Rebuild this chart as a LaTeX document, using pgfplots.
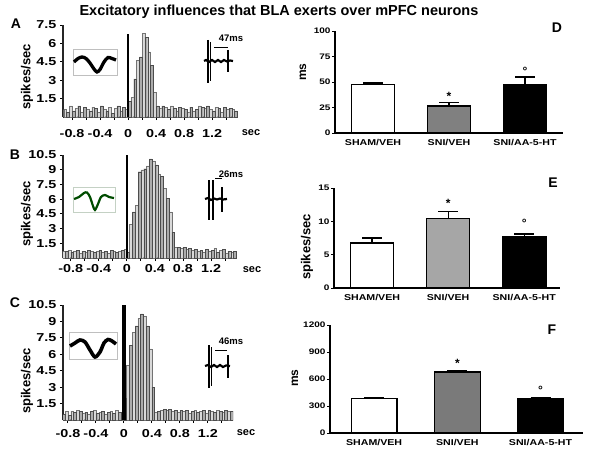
\documentclass[border=0pt]{standalone}
\usepackage{pgfplots}
\pgfplotsset{compat=1.18}
\usepackage{pgfplotstable}
\usepackage{fontspec}
\setmainfont{Liberation Sans}
\newfontfamily\stretchfont[FakeStretch=1.25]{Liberation Sans}
\newcommand\tickf{\stretchfont\bfseries\fontsize{11.5}{12}\selectfont}
\newcommand\rtickf{\stretchfont\bfseries\fontsize{8}{9}\selectfont}
\newcommand\catf{\stretchfont\bfseries\fontsize{8.5}{9}\selectfont}

\pgfplotstableread{
x a b c
-0.90 0.6 0.7 0.3
-0.86 0.4 0.7 0.5
-0.82 0.9 0.8 0.8
-0.78 0.5 0.6 0.4
-0.74 0.7 0.7 0.8
-0.70 0.9 0.8 0.7
-0.66 0.4 0.5 0.9
-0.62 0.8 0.7 0.8
-0.58 0.6 0.6 0.6
-0.54 0.5 0.8 0.7
-0.50 0.8 0.7 0.5
-0.46 0.7 0.6 0.8
-0.42 0.4 0.7 0.9
-0.38 0.9 0.8 0.6
-0.34 0.6 0.6 0.7
-0.30 0.5 0.7 0.8
-0.26 0.8 0.5 0.5
-0.22 0.3 0.8 0.7
-0.18 0.7 0.7 0.8
-0.14 0.9 0.6 0.6
-0.10 0.5 0.7 0.9
-0.06 0.8 0.8 0.7
-0.02 0.6 0.9 0.5
0.02 1.3 0.6 2.0
0.06 1.6 3.4 5.0
0.10 3.1 4.7 6.8
0.14 4.6 5.4 8.0
0.18 4.9 8.8 8.6
0.22 6.8 9.0 9.3
0.26 6.5 9.1 9.7
0.30 5.3 9.4 9.5
0.34 4.2 10.1 8.6
0.38 2.0 9.9 6.5
0.42 0.9 9.5 3.0
0.46 0.7 8.5 0.7
0.50 0.9 8.3 0.8
0.54 0.8 7.1 0.9
0.58 0.6 6.1 1.0
0.62 0.9 4.7 0.9
0.66 0.7 2.6 1.0
0.70 0.5 1.1 0.8
0.74 0.8 1.1 0.9
0.78 0.7 1.0 0.7
0.82 0.6 1.1 0.9
0.86 0.4 0.9 0.8
0.90 0.8 1.0 0.9
0.94 0.5 0.8 0.6
0.98 0.6 0.9 0.8
1.02 0.9 0.7 0.9
1.06 0.8 0.8 0.7
1.10 0.7 0.6 0.8
1.14 0.9 0.9 0.9
1.18 0.6 0.7 0.6
1.22 0.5 0.8 0.9
1.26 0.8 1.0 0.8
1.30 0.7 0.6 0.7
1.34 0.4 0.8 0.9
1.38 0.8 0.9 0.8
1.42 0.6 0.5 0.7
1.46 0.7 0.7 0.9
1.50 0.6 0.6 0.8
1.54 0.5 0.7 0.8
}\psth

\pgfplotsset{
  hist/.style={scale only axis, anchor=south west,
    axis x line*=bottom, axis y line*=left,
    axis line style={line width=1.1pt, black!85},
    tick style={black, line width=0.8pt}, tick align=outside,
    major tick length=3pt, minor tick length=2.5pt,
    xtick={-0.8,-0.4,0,0.4,0.8,1.2}, xticklabels={-0.8,-0.4,0,0.4,0.8,1.2},
    minor xtick={-0.6,-0.2,0.2,0.6,1.0,1.4},
    ymin=0, tick label style={font=\tickf},
    /pgf/number format/assume math mode=true},
  lightbar/.style={ybar, bar width=0.04, bar shift=0pt, fill=gray!30, draw=black!55, line width=0.35pt,
    x filter/.expression={mod(\coordindex,2)==0 ? x : nan}},
  darkbar/.style={ybar, bar width=0.04, bar shift=0pt, fill=gray!65, draw=black!70, line width=0.35pt,
    x filter/.expression={mod(\coordindex,2)==1 ? x : nan}},
  rbar/.style={scale only axis, anchor=south west,
    axis x line*=bottom, axis y line*=left,
    axis line style={line width=1.2pt, black},
    tick style={black, line width=0.9pt}, tick align=outside, major tick length=3pt,
    xtick={0,1,2}, xticklabels={SHAM/VEH,SNI/VEH,SNI/AA-5-HT},
    xtick style={draw=none},
    xticklabel style={font=\catf},
    yticklabel style={font=\rtickf, xshift=2pt},
    /pgf/number format/assume math mode=true,
    /pgf/number format/1000 sep={}, ymin=0},
  ebar/.style={ybar, bar shift=0pt, draw=black, line width=1.2pt,
    error bars/y dir=plus, error bars/y explicit,
    error bars/error bar style={line width=1.2pt, black},
    error bars/error mark options={rotate=90, line width=1.2pt, mark size=10pt, black}},
}

\begin{document}
\begin{tikzpicture}
\path[use as bounding box] (0pt,0pt) rectangle (600pt,-450pt);

% ---------- Panel A ----------
\begin{axis}[hist, at={(63pt,-117pt)}, width=175pt, height=92pt,
  xmin=-0.93, xmax=1.57, ymax=7.5, ytick={1.5,3,4.5,6,7.5}, yticklabels={1.5,3,4.5,6,7.5},
  xticklabel style={yshift=-6pt}]
\addplot[lightbar] table[x=x,y=a]{\psth};
\addplot[darkbar] table[x=x,y=a]{\psth};
\addplot[black, line width=2.3pt] coordinates {(0,0) (0,6.8)};
\end{axis}

% ---------- Panel B ----------
\begin{axis}[hist, at={(63pt,-258pt)}, width=174pt, height=103pt,
  xmin=-0.91, xmax=1.57, ymax=10.5, ytick={1.5,3,4.5,6,7.5,9,10.5}, yticklabels={1.5,3,4.5,6,7.5,9,10.5}]
\addplot[lightbar] table[x=x,y=b]{\psth};
\addplot[darkbar] table[x=x,y=b]{\psth};
\addplot[black, line width=2pt] coordinates {(0,0) (0,10.5)};
\end{axis}

% ---------- Panel C ----------
\begin{axis}[hist, at={(63pt,-420pt)}, width=170pt, height=115pt,
  xmin=-0.87, xmax=1.56, ymax=10.5, ytick={1.5,3,4.5,6,7.5,9,10.5}, yticklabels={1.5,3,4.5,6,7.5,9,10.5},
  xticklabel style={yshift=-3pt}]
\addplot[lightbar] table[x=x,y=c]{\psth};
\addplot[darkbar] table[x=x,y=c]{\psth};
\addplot[black, line width=3.3pt] coordinates {(0,0) (0,10.5)};
\end{axis}

% ---------- Panel D ----------
\begin{axis}[rbar, at={(335pt,-133pt)}, width=228pt, height=102pt,
  xmin=-0.5, xmax=2.5, ymax=100, ytick={0,25,50,75,100}]
\addplot[ebar, bar width=0.57, fill=white] coordinates {(0,47.5) +- (0,1.5)};
\addplot[ebar, bar width=0.57, fill=black!50] coordinates {(1,26.5) +- (0,3.3)};
\addplot[ebar, bar width=0.57, fill=black] coordinates {(2,47) +- (0,8)};
\node[anchor=north, inner sep=0pt, font=\bfseries\fontsize{12}{13}\selectfont] at (axis cs:1,40.2) {*};
\node[anchor=north, inner sep=0pt, font=\bfseries\fontsize{12}{13}\selectfont] at (axis cs:2,64.7) {°};
\end{axis}

% ---------- Panel E ----------
\begin{axis}[rbar, at={(334pt,-288pt)}, width=226pt, height=100pt,
  xmin=-0.5, xmax=2.47, ymax=15, ytick={0,5,10,15}]
\addplot[ebar, bar width=0.57, fill=white] coordinates {(0,6.75) +- (0,0.75)};
\addplot[ebar, bar width=0.57, fill=black!35] coordinates {(1,10.4) +- (0,1.1)};
\addplot[ebar, bar width=0.57, fill=black] coordinates {(2,7.7) +- (0,0.4)};
\node[anchor=north, inner sep=0pt, font=\bfseries\fontsize{12}{13}\selectfont] at (axis cs:1,13.35) {*};
\node[anchor=north, inner sep=0pt, font=\bfseries\fontsize{12}{13}\selectfont] at (axis cs:2,10.35) {°};
\end{axis}

% ---------- Panel F ----------
\begin{axis}[rbar, at={(330pt,-433pt)}, width=253pt, height=108pt,
  xmin=-0.53, xmax=2.51, ymax=1200, ytick={0,300,600,900,1200}]
\addplot[ebar, bar width=0.55, fill=white] coordinates {(0,380) +- (0,10)};
\addplot[ebar, bar width=0.55, fill=black!52] coordinates {(1,678) +- (0,10)};
\addplot[ebar, bar width=0.55, fill=black] coordinates {(2,380) +- (0,12)};
\node[anchor=north, inner sep=0pt, font=\bfseries\fontsize{12}{13}\selectfont] at (axis cs:1,822) {*};
\node[anchor=north, inner sep=0pt, font=\bfseries\fontsize{12}{13}\selectfont] at (axis cs:2,522) {°};
\end{axis}

% ---------- insets (waveforms, spike traces) in pixel units ----------
\begin{axis}[at={(0pt,0pt)}, anchor=north west, scale only axis, width=600pt, height=450pt,
  xmin=0, xmax=600, ymin=-450, ymax=0, hide axis, clip=false]
% A
\addplot[black!25, line width=0.5pt] coordinates {(73,-49) (117,-49) (117,-75) (73,-75) (73,-49)};
\addplot[black, line width=3.3pt, smooth] coordinates {(74,-62) (78,-58.5) (82,-57) (86,-58.5) (90,-63) (94,-69) (97,-72) (100,-69.5) (104,-62) (108,-57.5) (112,-58.5) (116,-60)};
\addplot[black, line width=2.2pt] coordinates {(204,-61) (206,-60) (209,-62) (212,-60) (215,-62) (218,-60) (221,-62) (224,-60) (227,-61.5) (230,-60.5) (233,-61)};
\addplot[black, line width=1.1pt] coordinates {(208,-40) (208,-83)};
\addplot[black, line width=1.1pt] coordinates {(210.5,-42) (210.5,-81)};
\addplot[black, line width=1.1pt] coordinates {(228,-50) (228,-72)};
\addplot[black, line width=0.8pt] coordinates {(214,-47) (228,-47)};
% B
\addplot[black!20!green!15!gray!40, line width=0.5pt] coordinates {(73,-187) (115,-187) (115,-212) (73,-212) (73,-187)};
\addplot[black!70!green, line width=2.2pt, smooth] coordinates {(74,-199) (79,-197) (84,-193) (87,-192.5) (90,-197) (93,-206) (95,-210) (98,-204) (101,-197) (105,-195) (109,-197) (114,-198)};
\addplot[black, line width=2.2pt] coordinates {(205,-199) (208,-198) (211,-200) (214,-198.5) (217,-199.5) (220,-198.5) (223,-199.5) (227,-199)};
\addplot[black, line width=1.1pt] coordinates {(209,-180) (209,-220)};
\addplot[black, line width=1.1pt] coordinates {(213,-180) (213,-220)};
\addplot[black, line width=1.6pt] coordinates {(222,-187) (222,-212)};
\addplot[black, line width=0.8pt] coordinates {(215,-178) (222,-178)};
% C
\addplot[black!25, line width=0.5pt] coordinates {(69,-332) (117,-332) (117,-359) (69,-359) (69,-332)};
\addplot[black, line width=3.6pt, smooth] coordinates {(70,-346) (75,-343) (80,-340) (85,-342) (90,-350) (95,-357) (100,-352) (104,-343) (108,-339.5) (112,-341) (116,-344)};
\addplot[black, line width=2.2pt] coordinates {(205,-366) (208,-365) (211,-367) (214,-365) (217,-367) (220,-365) (223,-367) (226,-365.5) (230,-366)};
\addplot[black, line width=1.1pt] coordinates {(209,-345) (209,-388)};
\addplot[black, line width=1.1pt] coordinates {(211.5,-347) (211.5,-386)};
\addplot[black, line width=1.1pt] coordinates {(228,-355) (228,-378)};
\addplot[black, line width=0.8pt] coordinates {(215,-350) (227,-350)};
\end{axis}

% ---------- text ----------
\node[font=\bfseries\fontsize{14.5}{16}\selectfont] at (279pt,-12pt) {Excitatory influences that BLA exerts over mPFC neurons};
\begin{scope}[every node/.style={font=\bfseries\fontsize{14}{16}\selectfont}]
\node at (16pt,-24pt) {A};
\node at (15pt,-155pt) {B};
\node at (15pt,-303pt) {C};
\node at (557pt,-28pt) {D};
\node at (553pt,-183pt) {E};
\node at (552pt,-330pt) {F};
\end{scope}
\begin{scope}[every node/.style={font=\bfseries\fontsize{13}{14}\selectfont, rotate=90}]
\node at (27pt,-77pt) {spikes/sec};
\node at (27pt,-214pt) {spikes/sec};
\node at (27pt,-381pt) {spikes/sec};
\node at (307pt,-247pt) {spikes/sec};
\end{scope}
\begin{scope}[every node/.style={font=\bfseries\fontsize{12}{13}\selectfont, rotate=90}]
\node at (303pt,-72pt) {ms};
\node at (295pt,-378pt) {ms};
\end{scope}
\begin{scope}[every node/.style={font=\bfseries\fontsize{11}{12}\selectfont}]
\node at (251pt,-133pt) {sec};
\node at (252pt,-270pt) {sec};
\node at (246pt,-433pt) {sec};
\end{scope}
\begin{scope}[every node/.style={font=\bfseries\fontsize{9.5}{11}\selectfont}]
\node at (231pt,-38pt) {47ms};
\node at (231pt,-174pt) {26ms};
\node at (231pt,-341pt) {46ms};
\end{scope}
\end{tikzpicture}
\end{document}
